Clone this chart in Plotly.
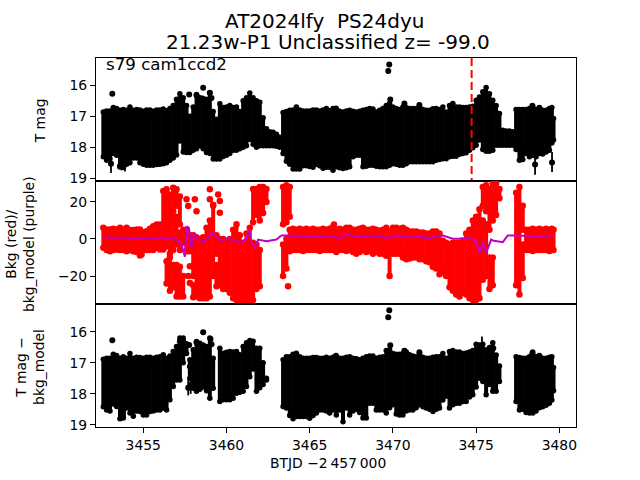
import plotly.graph_objects as go
from plotly.subplots import make_subplots

btjd = [3452.6,3452.8,3453.0,3453.2,3453.4,3453.6,3453.8,3454.0,3454.2,3454.4,3454.6,3454.8,3455.0,3455.2,3455.4,3455.6,3455.8,
3456.0,3456.2,3456.4,3456.6,3456.8,3457.0,3457.2,3457.4,3457.6,3457.8,3458.0,3458.2,3458.4,3458.6,3458.8,3459.0,3459.2,3459.4,3459.6,3459.8,
3460.0,3460.2,3460.4,3460.6,3460.8,3461.0,3461.2,3461.4,3461.6,3461.8,3462.0,3462.2,3462.4,3462.6,3462.8,3463.0,3463.2,3463.4,3463.6,3463.8,
3464.0,3464.2,3464.4,3464.6,3464.8,3465.0,3465.2,3465.4,3465.6,3465.8,3466.0,3466.2,
3466.4,3466.6,3466.8,3467.0,3467.2,3467.4,3467.6,3467.8,3468.0,3468.2,3468.4,3468.6,3468.8,3469.0,3469.2,3469.4,3469.6,3469.8,
3470.0,3470.2,3470.4,3470.6,3470.8,3471.0,3471.2,3471.4,3471.6,3471.8,3472.0,3472.2,3472.4,3472.6,3472.8,3473.0,3473.2,3473.4,3473.6,3473.8,
3474.0,3474.2,3474.4,3474.6,3474.8,3475.0,3475.2,3475.4,3475.6,3475.8,3476.0,3476.2,3476.4,3476.6,3476.8,3477.0,3477.2,3477.4,3477.6,3477.8,
3478.0,3478.2,3478.4,3478.6,3478.8,3479.0,3479.2,3479.4,3479.55,3479.65]

tmag_bright = [16.86,16.83,16.83,16.72,16.75,16.81,16.78,16.81,16.70,16.81,16.78,16.80,16.84,16.80,16.80,16.84,16.80,
16.80,16.77,16.82,16.75,16.65,16.45,16.27,16.40,16.65,17.00,16.70,16.30,16.40,16.45,16.45,16.25,16.85,17.10,16.60,16.72,
16.70,16.65,16.72,16.70,16.85,16.50,16.40,16.25,16.40,16.50,16.55,17.05,17.40,17.50,17.52,17.58,17.68,16.88,16.85,16.81,
16.80,16.70,16.80,16.83,16.83,16.83,16.80,16.80,16.83,16.80,16.75,16.82,
16.75,16.78,16.84,16.86,16.83,16.81,16.84,16.86,16.84,16.81,16.78,16.75,16.77,16.86,16.81,16.75,16.65,16.59,
16.70,16.75,16.78,16.70,16.72,16.75,16.75,16.75,16.70,16.78,16.81,16.81,16.76,16.75,16.78,16.70,16.86,16.65,16.59,16.70,
16.70,16.72,16.72,16.70,16.68,16.48,16.38,16.21,16.07,16.27,16.48,16.65,16.91,17.45,17.48,17.48,17.50,16.78,16.78,16.78,
16.78,16.75,16.70,16.78,16.72,16.81,16.81,16.75,16.72,17.07]
tmag_faint = [18.31,18.42,18.37,18.20,18.26,18.60,18.65,18.55,18.50,18.35,18.35,18.50,18.55,18.58,18.58,18.58,18.56,
18.55,18.53,18.50,18.42,18.35,18.25,17.80,18.15,18.17,18.17,18.10,18.05,17.95,18.05,18.17,18.20,18.38,18.38,18.38,18.30,
18.26,18.20,18.10,18.10,18.05,18.00,17.95,17.75,17.90,18.00,17.95,17.95,17.95,17.95,17.95,17.97,18.00,18.20,18.45,18.55,
18.70,18.70,18.70,18.60,18.60,18.62,18.65,18.55,18.60,18.68,18.65,18.65,
18.74,18.63,18.66,18.69,18.66,18.63,18.31,18.26,18.26,18.63,18.61,18.58,18.58,18.61,18.63,18.63,18.63,18.58,
18.53,18.55,18.58,18.58,18.53,18.47,18.47,18.47,18.47,18.47,18.47,18.47,18.47,18.42,18.40,18.37,18.37,18.31,18.29,18.29,
18.23,18.20,18.18,18.10,18.02,17.94,17.77,18.07,18.13,18.13,18.10,17.94,17.94,17.94,17.94,17.94,17.94,18.07,18.42,18.40,
18.20,18.31,18.26,18.31,18.20,18.22,18.15,18.10,17.86,17.77]

corr_bright = [16.88,16.85,16.85,16.72,16.76,16.85,16.80,16.85,16.70,16.85,16.82,16.83,16.85,16.82,16.82,16.85,16.82,
16.80,16.74,16.85,16.78,16.63,16.47,16.20,16.20,16.38,16.90,16.58,16.31,16.37,16.42,16.47,16.20,16.85,None,16.53,16.69,
16.66,16.63,16.65,16.63,16.74,16.47,16.35,16.28,16.30,16.53,16.53,17.00,17.50,None,None,None,None,16.90,16.80,16.80,
16.72,16.69,16.80,16.85,16.85,16.85,16.83,16.83,16.85,16.85,16.82,16.85,
16.82,16.85,16.85,16.85,16.82,16.80,16.85,16.87,16.90,16.85,16.80,16.78,16.78,16.85,16.82,16.80,16.60,16.58,
16.70,16.72,16.72,16.70,16.65,16.74,16.78,16.80,16.70,16.82,16.85,16.85,16.82,16.80,16.80,16.70,16.85,16.63,16.60,16.65,
16.65,16.70,16.68,16.65,16.60,16.40,16.42,16.40,16.58,16.50,16.35,16.75,17.10,None,None,None,None,16.80,16.83,16.85,
16.85,16.80,16.65,16.80,16.80,16.85,16.85,16.82,16.80,17.15]
corr_faint = [18.42,18.52,18.55,18.33,18.41,18.80,18.78,18.45,18.62,18.72,18.55,18.57,18.68,18.68,18.57,18.55,18.52,
18.52,18.46,18.52,18.19,17.76,17.55,17.55,17.00,16.70,17.50,17.82,17.92,17.85,17.78,17.90,18.14,17.82,None,18.25,18.19,
18.19,18.19,18.14,17.98,17.95,17.92,17.76,17.45,17.20,17.92,17.80,17.70,17.55,None,None,None,None,18.41,18.46,18.70,
18.80,18.73,18.73,18.73,18.73,18.79,18.70,18.62,18.52,18.52,18.55,18.62,
18.52,18.68,18.52,18.90,18.46,18.68,18.55,18.50,18.60,18.78,18.78,18.30,18.30,18.52,18.52,18.52,18.62,18.45,
18.35,18.65,18.68,18.68,18.55,18.52,18.52,18.45,18.35,18.42,18.46,18.50,18.57,18.50,18.46,18.20,18.08,18.46,18.35,18.30,
18.30,18.25,18.25,18.10,18.03,17.78,17.50,17.60,18.03,17.70,17.92,17.92,17.60,None,None,None,None,18.25,18.52,18.50,
18.60,18.62,18.62,18.55,18.45,18.42,18.37,18.30,18.20,17.90]

tmag_out_t = [3453.14,3457.76,3458.6,3458.2,3459.0,3459.1,3458.56,3469.78,3469.72,3469.84,3470.69,3471.59,3466.58,3478.38,3478.8,3478.54,3479.56,3453.06,3453.6,3453.8]
tmag_out_m = [16.27,16.30,16.08,16.32,16.24,16.41,16.43,15.33,15.54,16.46,16.59,16.64,16.75,16.66,16.73,18.56,18.49,18.53,18.63,18.63]
corr_out_t = [3453.14,3458.6,3459.04,3459.1,3457.76,3458.2,3457.2,3457.4,3453.7,3453.9,3457.7,3457.85,3457.8,3469.78,3469.72,3469.84,3470.69,3471.59,3466.58,3478.38,3478.8,3476.03]
corr_out_m = [16.27,16.01,16.23,16.40,16.42,16.34,16.31,16.31,18.52,18.46,17.80,17.71,17.12,15.30,15.53,16.43,16.61,16.66,16.77,16.69,16.77,16.53]

tmag_spike_t = [3453.06,3478.54,3479.56,3453.7,3453.9]
tmag_spike_hi = [18.30,18.20,18.15,18.40,18.40]
tmag_spike_lo = [18.83,18.89,18.80,18.75,18.78]
corr_spike_t = [3453.7,3453.9,3457.7,3457.85,3475.35,3467.0]
corr_spike_hi = [18.30,18.20,17.55,17.45,16.15,18.40]
corr_spike_lo = [18.86,18.75,18.05,18.00,16.70,18.90]

red_t = [3452.6,3452.8,3453.0,3453.2,3453.4,3453.6,3453.8,3454.0,3454.2,3454.4,3454.6,3454.8,3455.0,3455.2,3455.4,3455.6,3455.8,3456.0,
3456.2,3456.4,3456.4,3456.6,3456.6,3456.8,3456.8,3456.8,3457.0,3457.0,3457.0,3457.2,3457.2,3457.2,3457.4,3457.4,3457.6,3457.8,3458.0,3458.0,3458.2,3458.4,3458.6,3458.8,3459.0,3459.2,
3459.4,3459.4,3459.6,3459.8,3460.0,3460.2,3460.4,3460.6,3460.8,3461.0,3461.2,3461.4,3461.6,3461.6,3461.8,3461.8,3462.0,3462.0,3462.2,3462.4,
3463.4,3463.4,3463.6,3463.6,3463.8,3463.8,3464.0,3464.2,3464.4,3464.6,3464.8,3465.0,3465.2,3465.4,3465.6,3465.8,3466.0,3466.2,
3466.4,3466.6,3466.8,3467.0,3467.2,3467.4,3467.6,3467.8,3468.0,3468.2,3468.4,3468.6,3468.8,3469.0,3469.2,3469.4,3469.6,3469.8,
3470.0,3470.2,3470.4,3470.6,3470.8,3471.0,3471.2,3471.4,3471.6,3471.8,3472.0,3472.2,3472.4,3472.6,3472.8,3473.0,3473.2,3473.4,3473.6,3473.8,
3474.0,3474.2,3474.4,3474.6,3474.8,3475.0,3475.2,3475.4,3475.4,3475.6,3475.6,3475.8,3475.8,3476.0,3476.0,3476.2,3476.4,
3477.4,3477.6,3477.8,3477.8,3478.0,3478.2,3478.4,3478.6,3478.8,3479.0,3479.2,3479.4,3479.55,3479.65]
red_hi = [6,5.1,5.1,5.5,5.1,6,5.1,6,4.8,4.8,5.1,5.1,3.7,4.2,5.5,6.9,7.8,7.8,
25.9,26.8,-12,24,-10,27.7,12,-14,26.8,12,-14,23,3.3,-15,5,-20,5,2,2,-25,1,0,1,6,10,18,
2,-14,0,0,-1,0,5,8,2,-2,3,6,27,-2,27,-3,28,-6,28,27,
28,-3,29,0,28,5,5.5,5,5.5,5,5.5,5,5.5,5,5,5.5,5,5.5,
6.5,5,5.5,5,6,6,5,5,5.5,6,5,5,5.5,5,4.5,5,6,4,
6,6,5.5,6,5,4,4,4,3.5,3.5,3,3,4,4,3,-1,-2,-3,-2,-2,
-2,-1,3,5,10,12,16,28,10,29,8,27,-10,30,-10,30,27,
25,28,18,-3,5,5,5.5,5,5.5,5,5.5,5,5.5,5]
red_lo = [-4.8,-6,-6.6,-6,-5.7,-6,-6,-6.6,-6,-6.6,-7,-8.9,-6,-6,-6,-6,-4.8,-5.7,
-5.7,-4,-24,-8,-28,15,-6,-26,18,-3,-31,8,-6,-31,-2,-31,-6.6,-6.6,-20,-31.5,-31,-32,-32,-32,-31,-20,
-8,-25.5,-25,-27,-27,-29,-32,-33,-33,-33,-33,-33,9,-33,13,-27,10,-25.5,14,20,
8,-20,9,-16,12,-6.6,-6,-6,-6,-6.5,-6,-6,-6,-6,-6.5,-6,-6,-6,
-6,-7,-6,-6,-6.5,-6,-7,-8,-7,-6,-7,-6.5,-8,-7,-8,-8,-9,-20,
-8,-8,-8,-10,-11,-10.5,-10,-10,-11,-11,-12,-12.5,-15,-16,-19,-18,-20,-26,-28,-30,
-31,-29,-30,-32,-33,-33,-32,18,-22,15,-20,5,-27,10,-25,13,22,
-25,-30,5,-21,-6,-6,-6.5,-6,-6,-6,-6,-6.5,-6,-6]

red_out_t = [3457.6,3457.7,3458.1,3458.2,3457.8,3457.7,3457.8,3457.4,3459.0,3459.0,3459.2,3459.5,3459.6,3459.6,3463.7,3466.46,3453.0,3454.9]
red_out_v = [21.4,17.8,21.4,15,-14.7,-20,-23.7,3.3,26.9,21.5,18.5,24,20.5,14.1,-25.5,7.8,-3,-8.4]

model_t = [3452.6,3455.8,3456.0,3456.4,3457.0,3457.3,3457.5,3457.6,3457.74,3457.9,3458.04,3458.3,3458.6,3458.9,3459.1,3459.4,3459.7,3460.1,3460.6,3460.9,
3461.2,3461.36,3461.5,3461.7,3461.9,3462.4,3463.0,3463.3,3463.8,3464.8,3466.2,3466.8,3467.2,3467.9,3469.0,3469.6,3470.2,3471.4,3472.2,3473.0,
3473.6,3473.9,3474.6,3475.0,3475.2,3475.4,3475.6,3475.9,3476.0,3476.6,3476.9,3477.3,3478.2,3478.6,3479.65]
model_v = [1.0,0.1,1.2,0.1,-0.3,-3.0,-9.6,6.9,6.0,-4.8,3.3,-0.3,-1.7,0.6,3.3,1.2,-0.8,0.1,-1.2,-2.1,
0.6,5.1,-2.1,-4.8,-0.3,-1.2,-0.3,1.9,1.9,1.2,1.2,0.6,2.4,1.2,1.9,0.6,1.9,1.2,0.6,1.9,
0.1,0.1,0.6,-1.2,-7.5,-1.2,-7.5,-0.3,-0.8,-1.7,1.9,1.9,1.5,1.5,1.9]
event_t = [3474.73, 3474.73]
event_m = [15.12, 19.09]

BLACK = "#000000"
RED = "#ff0000"
PURPLE = "#bf00bf"
FONT = "DejaVu Sans"

def segments(ts, hi, lo):
    xs, ys = [], []
    for t, a, b in zip(ts, hi, lo):
        if a is None or b is None:
            continue
        xs += [t, t, None]
        ys += [a, b, None]
    return xs, ys

def ends(ts, hi, lo):
    xs, ys = [], []
    for t, a, b in zip(ts, hi, lo):
        if a is None or b is None:
            continue
        xs += [t, t]
        ys += [a, b]
    return xs, ys

def band(fig, row, ts, hi, lo, colour, width=4.0, size=5.5):
    x, y = segments(ts, hi, lo)
    fig.add_trace(go.Scatter(x=x, y=y, mode="lines", line=dict(color=colour, width=width),
                             hoverinfo="skip", showlegend=False), row=row, col=1)
    x, y = ends(ts, hi, lo)
    fig.add_trace(go.Scatter(x=x, y=y, mode="markers", marker=dict(color=colour, size=size),
                             hoverinfo="skip", showlegend=False), row=row, col=1)

fig = make_subplots(rows=3, cols=1, shared_xaxes=True, vertical_spacing=0)

band(fig, 1, btjd, tmag_bright, tmag_faint, BLACK)
fig.add_trace(go.Scatter(x=tmag_out_t, y=tmag_out_m, mode="markers", marker=dict(color=BLACK, size=6), showlegend=False), row=1, col=1)
x, y = segments(tmag_spike_t, tmag_spike_hi, tmag_spike_lo)
fig.add_trace(go.Scatter(x=x, y=y, mode="lines", line=dict(color=BLACK, width=1.8), showlegend=False), row=1, col=1)
fig.add_trace(go.Scatter(x=event_t, y=event_m, mode="lines", line=dict(color=RED, width=2, dash="8px,4px"), showlegend=False), row=1, col=1)

band(fig, 2, red_t, red_hi, red_lo, RED, width=4.0, size=6.5)
fig.add_trace(go.Scatter(x=red_out_t, y=red_out_v, mode="markers", marker=dict(color=RED, size=6.5), showlegend=False), row=2, col=1)
fig.add_trace(go.Scatter(x=model_t, y=model_v, mode="lines", line=dict(color=PURPLE, width=2), showlegend=False), row=2, col=1)

band(fig, 3, btjd, corr_bright, corr_faint, BLACK)
fig.add_trace(go.Scatter(x=corr_out_t, y=corr_out_m, mode="markers", marker=dict(color=BLACK, size=6), showlegend=False), row=3, col=1)
x, y = segments(corr_spike_t, corr_spike_hi, corr_spike_lo)
fig.add_trace(go.Scatter(x=x, y=y, mode="lines", line=dict(color=BLACK, width=1.8), showlegend=False), row=3, col=1)

axis_style = dict(showgrid=False, zeroline=False, showline=True, mirror=True, linecolor=BLACK, linewidth=1,
                  ticks="outside", ticklen=5, tickwidth=1, tickcolor=BLACK,
                  tickfont=dict(family=FONT, size=13.9, color=BLACK))
x_range = [3452.16, 3481.0]
fig.update_xaxes(range=x_range, tickvals=[3455, 3460, 3465, 3470, 3475, 3480], ticktext=["3455", "3460", "3465", "3470", "3475", "3480"], **axis_style)
fig.update_xaxes(ticks="", showticklabels=False, row=1, col=1)
fig.update_xaxes(ticks="", showticklabels=False, row=2, col=1)
fig.update_yaxes(**axis_style)
fig.update_yaxes(range=[19.09, 15.12], tickvals=[16, 17, 18, 19], row=1, col=1)
fig.update_yaxes(range=[-35.1, 31.3], tickvals=[-20, 0, 20], ticktext=["\u221220", "0", "20"], row=2, col=1)
fig.update_yaxes(range=[19.07, 15.1], tickvals=[16, 17, 18, 19], row=3, col=1)

W, H = 640, 480
L, R, T, B = 96, 64, 57.6, 52.8
pw, ph = W - L - R, H - T - B
def px(v): return (v - L) / pw
def py(v): return 1 - (v - T) / ph

def note(text, xp, yp, size=13.9, angle=0, anchor="center"):
    fig.add_annotation(text=text, xref="paper", yref="paper", x=px(xp), y=py(yp), showarrow=False,
                       textangle=angle, xanchor=anchor, yanchor="middle",
                       font=dict(family=FONT, size=size, color=BLACK))

note("AT2024lfy  PS24dyu", 324.7, 21, size=20)
note("21.23w-P1 Unclassified z= -99.0", 328, 42, size=20)
note("s79 cam1ccd2", 104, 64, size=16.67, anchor="left")
note("T mag", 40, 121, angle=-90)
note("Bkg (red)/<br>bkg_model (purple)", 20, 244, angle=-90)
note("T mag \u2212<br>bkg_model", 30, 367, angle=-90)
note("BTJD \u22122\u2009457\u2009000", 327.5, 463)

fig.update_layout(width=W, height=H, margin=dict(l=L, r=R, t=T, b=B), plot_bgcolor="white", paper_bgcolor="white",
                  showlegend=False, hovermode=False)

fig.write_html("out.html", config={"displayModeBar": False},
               post_script="document.body.style.margin='0';document.body.style.overflow='hidden';")
